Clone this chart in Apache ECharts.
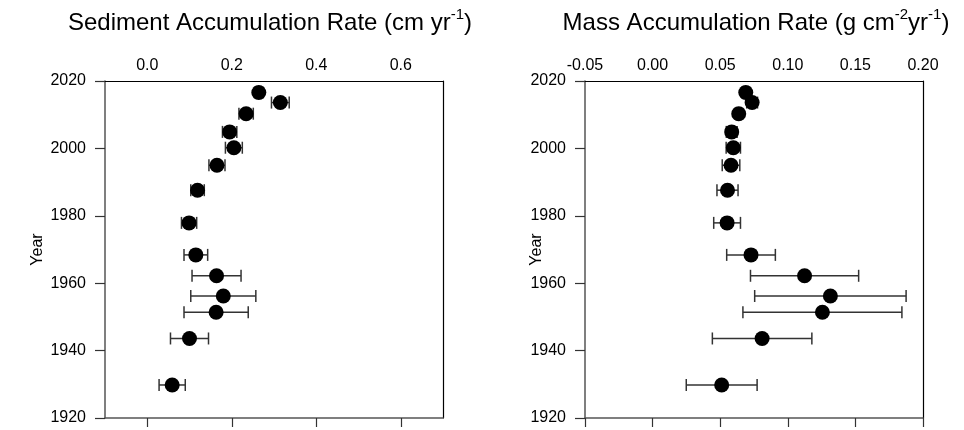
<!DOCTYPE html>
<html>
<head>
<meta charset="utf-8">
<script src="https://cdn.jsdelivr.net/npm/echarts@6/dist/echarts.min.js"></script>
<style>
  html, body { margin: 0; padding: 0; background: #fff; }
  #chart { width: 964px; height: 430px; }
</style>
</head>
<body>
<div id="chart"></div>
<script>
const years = [2016.6, 2013.6, 2010.3, 2004.9, 2000.2, 1995.0, 1987.6, 1977.9, 1968.4, 1962.2, 1956.2, 1951.4, 1943.6, 1929.8];
// sediment accumulation rate (cm/yr) and half error
const sar = [0.264, 0.315, 0.234, 0.195, 0.205, 0.165, 0.119, 0.099, 0.115, 0.164, 0.180, 0.163, 0.100, 0.059];
const sarErr = [0.010, 0.021, 0.017, 0.017, 0.020, 0.019, 0.016, 0.018, 0.028, 0.058, 0.077, 0.076, 0.045, 0.031];
// mass accumulation rate (g/cm2/yr) and half error
const mar = [0.0689, 0.0736, 0.0637, 0.0585, 0.0597, 0.0580, 0.0554, 0.0551, 0.0728, 0.1124, 0.1315, 0.1256, 0.0810, 0.0511];
const marErr = [0.003, 0.004, 0.003, 0.004, 0.0053, 0.0065, 0.0078, 0.0099, 0.018, 0.040, 0.056, 0.0588, 0.0368, 0.0262];
const sarTicks = [0, 0.2, 0.4, 0.6];

const FONT = "'Liberation Sans', Arial, sans-serif";
const chart = echarts.init(document.getElementById('chart'));

function errBars(vals, errs) {
  return vals.map((v, i) => [v - errs[i], v + errs[i], years[i]]);
}
function renderErr(params, api) {
  const lo = api.coord([api.value(0), api.value(2)]);
  const hi = api.coord([api.value(1), api.value(2)]);
  const h = 6;
  const st = { stroke: '#333', lineWidth: 1.5 };
  return {
    type: 'group',
    children: [
      { type: 'line', shape: { x1: lo[0], y1: lo[1], x2: hi[0], y2: hi[1] }, style: st },
      { type: 'line', shape: { x1: lo[0], y1: lo[1] - h, x2: lo[0], y2: lo[1] + h }, style: st },
      { type: 'line', shape: { x1: hi[0], y1: hi[1] - h, x2: hi[0], y2: hi[1] + h }, style: st }
    ]
  };
}

const lineStyle = { color: '#000', width: 1.2 };
function yAxes(gi, nameGap) {
  return [
    {
      type: 'value', gridIndex: gi, position: 'left', min: 1920, max: 2020, interval: 20,
      name: 'Year', nameLocation: 'middle', nameGap: nameGap, nameMoveOverlap: false,
      nameTextStyle: { fontFamily: FONT, fontSize: 16, color: '#000' },
      axisLine: { show: true, onZero: false, lineStyle: { color: '#555', width: 1.5 } },
      axisTick: { show: true, length: 10, lineStyle: { color: '#333', width: 1.2 } },
      axisLabel: { fontFamily: FONT, fontSize: 16, color: '#000', margin: 19, formatter: v => String(v) },
      splitLine: { show: false }
    },
    {
      type: 'value', gridIndex: gi, position: 'right', min: 1920, max: 2020,
      axisLine: { show: true, onZero: false, lineStyle: lineStyle },
      axisTick: { show: false }, axisLabel: { show: false }, splitLine: { show: false }
    }
  ];
}

function titleText(x, text) {
  return {
    type: 'text', x: x, y: 21,
    style: {
      text: text,
      align: 'center', verticalAlign: 'middle', fill: '#000',
      rich: {
        a: { fontFamily: FONT, fontSize: 24, lineHeight: 28, verticalAlign: 'bottom' },
        s: { fontFamily: FONT, fontSize: 15, lineHeight: 28, verticalAlign: 'top' }
      }
    }
  };
}

chart.setOption({
  animation: false,
  backgroundColor: '#fff',
  graphic: [
    titleText(270, '{a|Sediment Accumulation Rate (cm yr}{s|-1}{a|)}'),
    titleText(756, '{a|Mass Accumulation Rate (g cm}{s|-2}{a|yr}{s|-1}{a|)}')
  ],
  grid: [
    { left: 105, right: 521, top: 81, bottom: 12 },
    { left: 585, right: 41, top: 81, bottom: 12 }
  ],
  xAxis: [
    {
      type: 'value', gridIndex: 0, position: 'top', min: -0.1, max: 0.7,
      axisLine: { show: true, onZero: false, lineStyle: lineStyle },
      axisTick: { show: false },
      axisLabel: { fontFamily: FONT, fontSize: 16, color: '#000', margin: 7,
        customValues: sarTicks, formatter: v => v.toFixed(1) },
      splitLine: { show: false }
    },
    {
      type: 'value', gridIndex: 0, position: 'bottom', min: -0.1, max: 0.7,
      axisLine: { show: true, onZero: false, lineStyle: { color: '#555', width: 1.5 } },
      axisTick: { show: true, length: 9, customValues: sarTicks, lineStyle: { color: '#333', width: 1.2 } },
      axisLabel: { show: false },
      splitLine: { show: false }
    },
    {
      type: 'value', gridIndex: 1, position: 'top', min: -0.05, max: 0.2, interval: 0.05,
      axisLine: { show: true, onZero: false, lineStyle: lineStyle },
      axisTick: { show: false },
      axisLabel: { fontFamily: FONT, fontSize: 16, color: '#000', margin: 7,
        showMinLabel: true, showMaxLabel: true, formatter: v => v.toFixed(2) },
      splitLine: { show: false }
    },
    {
      type: 'value', gridIndex: 1, position: 'bottom', min: -0.05, max: 0.2, interval: 0.05,
      axisLine: { show: true, onZero: false, lineStyle: { color: '#555', width: 1.5 } },
      axisTick: { show: true, length: 9, lineStyle: { color: '#333', width: 1.2 } },
      axisLabel: { show: false },
      splitLine: { show: false }
    }
  ],
  yAxis: yAxes(0, 59).concat(yAxes(1, 40)),
  series: [
    {
      type: 'custom', xAxisIndex: 0, yAxisIndex: 0, renderItem: renderErr,
      data: errBars(sar, sarErr), z: 2, silent: true
    },
    {
      type: 'scatter', xAxisIndex: 0, yAxisIndex: 0, symbolSize: 15,
      itemStyle: { color: '#000', opacity: 1 }, z: 3,
      data: sar.map((v, i) => [v, years[i]])
    },
    {
      type: 'custom', xAxisIndex: 2, yAxisIndex: 2, renderItem: renderErr,
      data: errBars(mar, marErr), z: 2, silent: true
    },
    {
      type: 'scatter', xAxisIndex: 2, yAxisIndex: 2, symbolSize: 15,
      itemStyle: { color: '#000', opacity: 1 }, z: 3,
      data: mar.map((v, i) => [v, years[i]])
    }
  ]
});
</script>
</body>
</html>
